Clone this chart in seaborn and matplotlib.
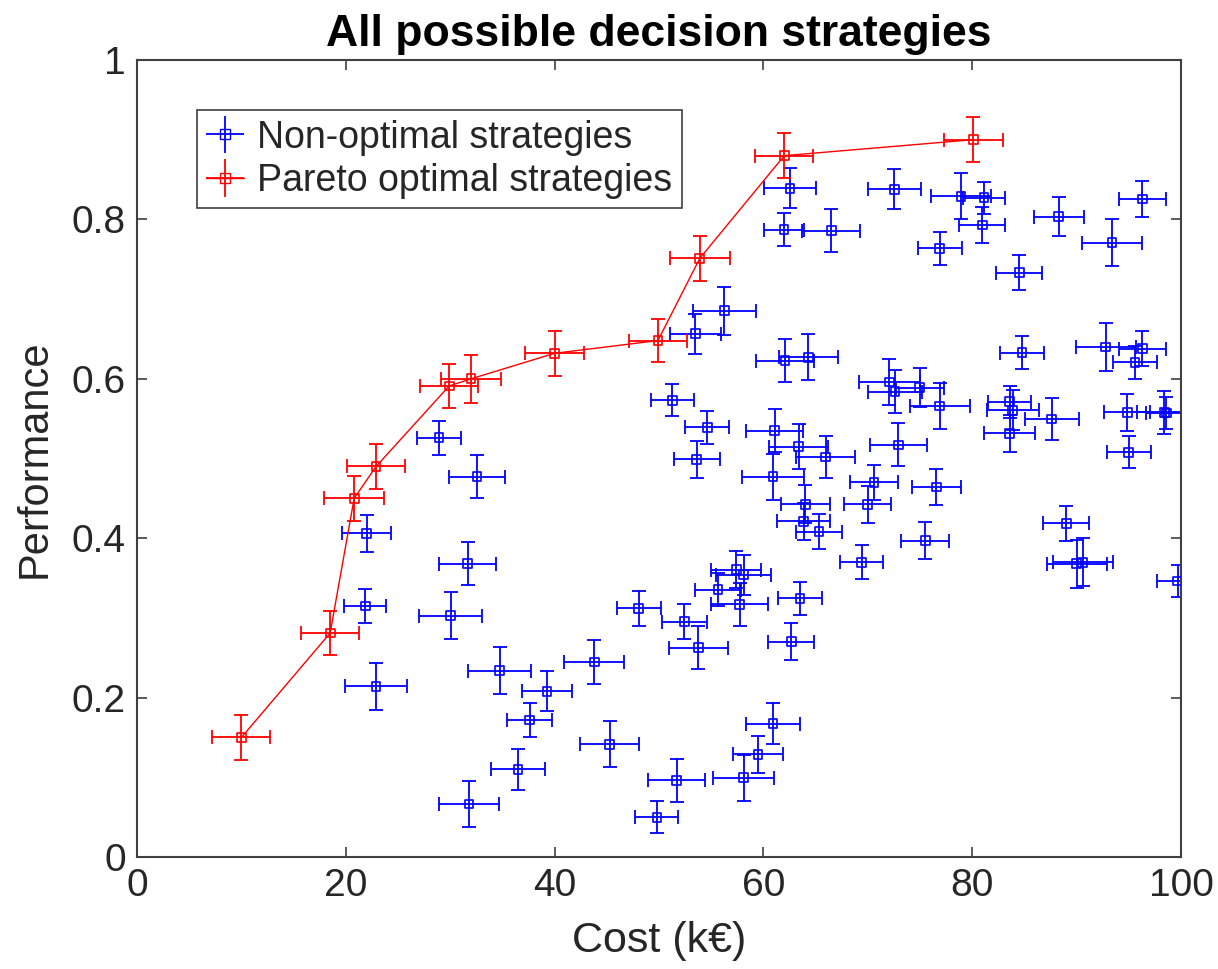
import numpy as np
import pandas as pd
import matplotlib
matplotlib.use("Agg")
import matplotlib.pyplot as plt
import seaborn as sns

# ---------------- data ----------------
pareto_cost = [10.0, 18.5, 20.8, 22.9, 29.9, 32.0, 40.0, 49.9, 53.9, 62.0, 80.1]
pareto_perf = [0.150, 0.281, 0.450, 0.490, 0.591, 0.600, 0.632, 0.648, 0.751, 0.880, 0.900]
pareto_xerr = [2.78, 2.80, 2.86, 2.78, 2.78, 2.87, 2.86, 2.75, 2.86, 2.78, 2.84]
pareto_yerr = [0.028, 0.028, 0.028, 0.028, 0.028, 0.030, 0.028, 0.027, 0.028, 0.028, 0.028]

other_cost = [28.93, 32.57, 22.0, 31.67, 21.87, 30.04, 34.74, 22.89, 36.5, 31.8,
              37.6, 51.28, 54.63, 53.6, 61.08, 63.38, 65.96, 60.92, 64.0, 63.86,
              65.33, 57.4, 58.1, 55.65, 57.72, 63.5, 48.05, 52.43, 53.77, 62.67,
              43.8, 39.27, 45.27, 60.92, 59.48, 58.11, 51.69, 49.8, 72.06, 72.6,
              74.97, 76.9, 72.92, 70.6, 69.99, 76.56, 69.4, 75.5, 83.6, 83.87,
              83.6, 87.6, 94.86, 98.4, 98.6, 95.0, 89.0, 90.0, 90.6, 99.68,
              62.55, 72.54, 61.97, 66.5, 56.26, 53.48, 62.07, 64.3, 78.93, 81.13,
              80.97, 76.9, 88.3, 96.3, 93.4, 84.5, 84.77, 92.8, 96.3, 95.6]
other_perf = [0.526, 0.477, 0.406, 0.368, 0.315, 0.303, 0.234, 0.214, 0.110, 0.0665,
              0.172, 0.573, 0.539, 0.499, 0.535, 0.515, 0.502, 0.477, 0.4425, 0.421,
              0.408, 0.3605, 0.354, 0.3355, 0.317, 0.3246, 0.312, 0.295, 0.2626, 0.270,
              0.2447, 0.208, 0.1414, 0.1673, 0.1288, 0.0995, 0.0962, 0.050, 0.596, 0.584,
              0.589, 0.566, 0.517, 0.470, 0.4425, 0.4642, 0.370, 0.397, 0.5713, 0.5604,
              0.5315, 0.5495, 0.558, 0.558, 0.557, 0.508, 0.4187, 0.368, 0.370, 0.3463,
              0.839, 0.838, 0.787, 0.786, 0.6855, 0.6566, 0.6227, 0.627, 0.829, 0.827,
              0.793, 0.7637, 0.8036, 0.8256, 0.771, 0.733, 0.6327, 0.640, 0.638, 0.6206]
other_xerr = [2.12, 2.71, 2.36, 2.71, 2.00, 3.00, 3.00, 2.94, 2.57, 2.86,
              2.14, 2.06, 2.12, 2.20, 2.71, 2.85, 2.80, 3.00, 2.35, 2.54,
              2.20, 2.40, 2.63, 2.20, 2.71, 2.14, 2.10, 2.12, 2.80, 2.20,
              2.86, 2.44, 2.86, 2.57, 2.43, 2.94, 2.73, 2.06, 2.94, 2.60,
              2.30, 2.87, 2.73, 2.28, 2.27, 2.36, 2.06, 2.30, 2.04, 2.50,
              2.43, 2.59, 2.20, 2.60, 2.00, 2.10, 2.20, 2.87, 2.87, 2.00,
              2.52, 2.54, 1.95, 2.76, 3.00, 2.47, 2.80, 2.80, 2.90, 2.05,
              2.20, 2.10, 2.40, 2.27, 2.84, 2.20, 2.06, 2.90, 2.25, 2.10]
other_yerr = [0.021, 0.027, 0.023, 0.027, 0.021, 0.030, 0.030, 0.029, 0.026, 0.029,
              0.021, 0.020, 0.021, 0.023, 0.027, 0.028, 0.026, 0.029, 0.024, 0.023,
              0.022, 0.023, 0.025, 0.021, 0.027, 0.021, 0.022, 0.022, 0.027, 0.023,
              0.028, 0.025, 0.029, 0.026, 0.023, 0.029, 0.027, 0.020, 0.029, 0.027,
              0.024, 0.029, 0.027, 0.022, 0.023, 0.023, 0.021, 0.023, 0.020, 0.025,
              0.023, 0.026, 0.023, 0.027, 0.020, 0.020, 0.022, 0.030, 0.030, 0.020,
              0.025, 0.025, 0.021, 0.027, 0.030, 0.025, 0.027, 0.029, 0.029, 0.020,
              0.022, 0.021, 0.025, 0.023, 0.029, 0.022, 0.021, 0.030, 0.022, 0.021]

x_ticks = [0, 20, 40, 60, 80, 100]
y_ticks = [0, 0.2, 0.4, 0.6, 0.8, 1]
y_ticklabels = ["0", "0.2", "0.4", "0.6", "0.8", "1"]

title = "All possible decision strategies"
xlabel = "Cost (k\u20ac)"
ylabel = "Performance"
label_other = "Non-optimal strategies"
label_pareto = "Pareto optimal strategies"

# ---------------- style ----------------
sns.set_theme(style="white")
plt.rcParams["font.family"] = ["Liberation Sans", "DejaVu Sans"]
edge = "#404040"
txt = "#262626"

fig = plt.figure(figsize=(12.18, 9.69), dpi=100)
ax = fig.add_axes([137 / 1218, 1 - 857 / 969, (1181 - 137) / 1218, (857 - 60) / 969])

df_o = pd.DataFrame({"cost": other_cost, "perf": other_perf})
df_p = pd.DataFrame({"cost": pareto_cost, "perf": pareto_perf})

blue = "#0000FF"
red = "#FF0000"

ax.errorbar(other_cost, other_perf, xerr=other_xerr, yerr=other_yerr,
            fmt="none", ecolor=blue, elinewidth=1.3, capsize=5, capthick=1.3, zorder=2)
sns.scatterplot(data=df_o, x="cost", y="perf", ax=ax, marker="s", s=40,
                facecolor="none", edgecolor=blue, linewidth=1.2, zorder=3, legend=False)

ax.errorbar(pareto_cost, pareto_perf, xerr=pareto_xerr, yerr=pareto_yerr,
            fmt="none", ecolor=red, elinewidth=1.3, capsize=5, capthick=1.3, zorder=4)
sns.lineplot(data=df_p, x="cost", y="perf", ax=ax, sort=False, color=red,
             linewidth=1.0, zorder=4, legend=False)
sns.scatterplot(data=df_p, x="cost", y="perf", ax=ax, marker="s", s=40,
                facecolor="none", edgecolor=red, linewidth=1.2, zorder=5, legend=False)

ax.set_xlim(0, 100)
ax.set_ylim(0, 1)
ax.set_xticks(x_ticks)
ax.set_xticklabels([str(t) for t in x_ticks])
ax.set_yticks(y_ticks)
ax.set_yticklabels(y_ticklabels)
ax.tick_params(axis="both", which="both", direction="in", length=7, width=1.2,
               color=edge, labelsize=28, labelcolor=txt, top=True, right=True,
               bottom=True, left=True, pad=8)
for sp in ax.spines.values():
    sp.set_visible(True)
    sp.set_color(edge)
    sp.set_linewidth(1.5)

ax.set_xlabel(xlabel, fontsize=31, color=txt, labelpad=12)
ax.set_ylabel(ylabel, fontsize=30, color=txt, labelpad=12)
ax.set_title(title, fontsize=32, fontweight="bold", color="black", pad=10)

# legend handles: errorbar with marker
h_o = ax.errorbar([], [], xerr=[], yerr=[], fmt="s", mfc="none", mec=blue, color=blue,
                  ms=7, elinewidth=1.3, capsize=4, ls="none")
h_p = ax.errorbar([], [], xerr=[], yerr=[], fmt="s-", mfc="none", mec=red, color=red,
                  ms=7, elinewidth=1.3, capsize=4, lw=1.0)
leg = ax.legend([h_o, h_p], [label_other, label_pareto], loc="upper left",
                bbox_to_anchor=(0.0575, 0.937), fontsize=27, frameon=True,
                fancybox=False, edgecolor=edge, framealpha=1, borderpad=0.25,
                borderaxespad=0, handlelength=1.0, handletextpad=0.35, labelspacing=0.2)
leg.get_frame().set_linewidth(1.2)

fig.savefig("out.png", dpi=100, facecolor="white")
